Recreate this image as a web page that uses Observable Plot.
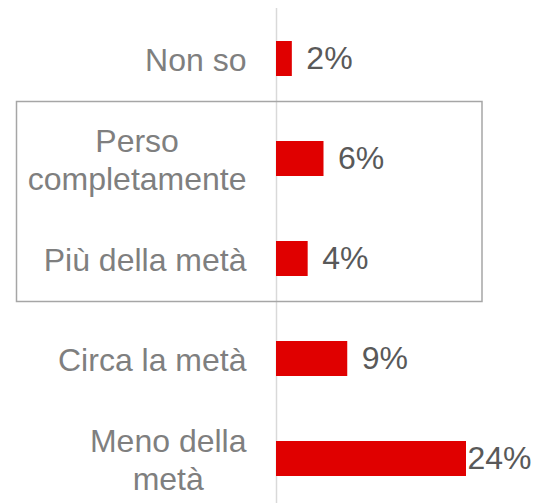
<!DOCTYPE html>
<html>
<head>
<meta charset="utf-8">
<script src="https://cdn.jsdelivr.net/npm/d3@7"></script>
<script src="https://cdn.jsdelivr.net/npm/@observablehq/plot@0.6"></script>
<style>
  html, body { margin: 0; padding: 0; background: #fff; }
  #chart svg { display: block; }
</style>
</head>
<body>
<div id="chart"></div>
<script>
const categories = ["Non so", "Perso completamente", "Più della metà", "Circa la metà", "Meno della metà"];
const labelLines = ["Non so", "Perso\ncompletamente", "Più della metà", "Circa la metà", "Meno della\nmetà"];
const values = [2, 6, 4, 9, 24];
const highlighted = ["Perso completamente", "Più della metà"];

const data = categories.map((c, i) => ({category: c, label: labelLines[i], value: values[i]}));
const FONT = "Liberation Sans, Arial, Helvetica, sans-serif";
const FS = 32;

const ctx = document.createElement("canvas").getContext("2d");
ctx.font = `${FS}px ${FONT}`;
const labelWidth = (s) => Math.max(...s.split("\n").map((l) => ctx.measureText(l).width));

const maxV = d3.max(values);

const labelMarks = data.map((d) => Plot.text([d], {
  x: () => 0, y: "category", text: "label",
  textAnchor: "middle", lineAnchor: "middle", lineHeight: 1.2,
  dx: -30 - labelWidth(d.label) / 2,
  fill: "#7f7f7f", fontSize: FS
}));

const chart = Plot.plot({
  width: 535,
  height: 503,
  marginLeft: 276,
  marginRight: 69,
  marginTop: 8,
  marginBottom: 0,
  style: {fontFamily: FONT, background: "#fff"},
  x: {domain: [0, maxV], axis: null},
  y: {domain: categories, range: [8, 508], paddingInner: 0.65, paddingOuter: 0.325, axis: null},
  marks: [
    Plot.ruleX([0], {stroke: "#d9d9d9", strokeWidth: 1.5}),
    Plot.barX(data, {x: "value", y: "category", fill: "#e00000"}),
    Plot.text(data.filter((d) => d.value < maxV), {
      x: "value", y: "category", text: (d) => `${d.value}%`,
      textAnchor: "start", dx: 14, fill: "#595959", fontSize: FS
    }),
    Plot.text(data.filter((d) => d.value === maxV), {
      x: "value", y: "category", text: (d) => `${d.value}%`,
      textAnchor: "start", dx: 1, fill: "#595959", fontSize: FS
    }),
    ...labelMarks
  ]
});

// highlight box around selected categories, positioned from the y scale
const ys = chart.scale("y");
const step = ys.bandwidth / (1 - 0.65);
const yTop = d3.min(highlighted, (c) => ys.apply(c)) - (step - ys.bandwidth) / 2 - 7;
const yBot = d3.max(highlighted, (c) => ys.apply(c)) + ys.bandwidth + (step - ys.bandwidth) / 2 - 7;
d3.select(chart).append("rect")
  .attr("x", 16.5).attr("y", yTop)
  .attr("width", 465.5).attr("height", yBot - yTop)
  .attr("fill", "none").attr("stroke", "#a6a6a6").attr("stroke-width", 1.5);

document.getElementById("chart").appendChild(chart);
</script>
</body>
</html>
